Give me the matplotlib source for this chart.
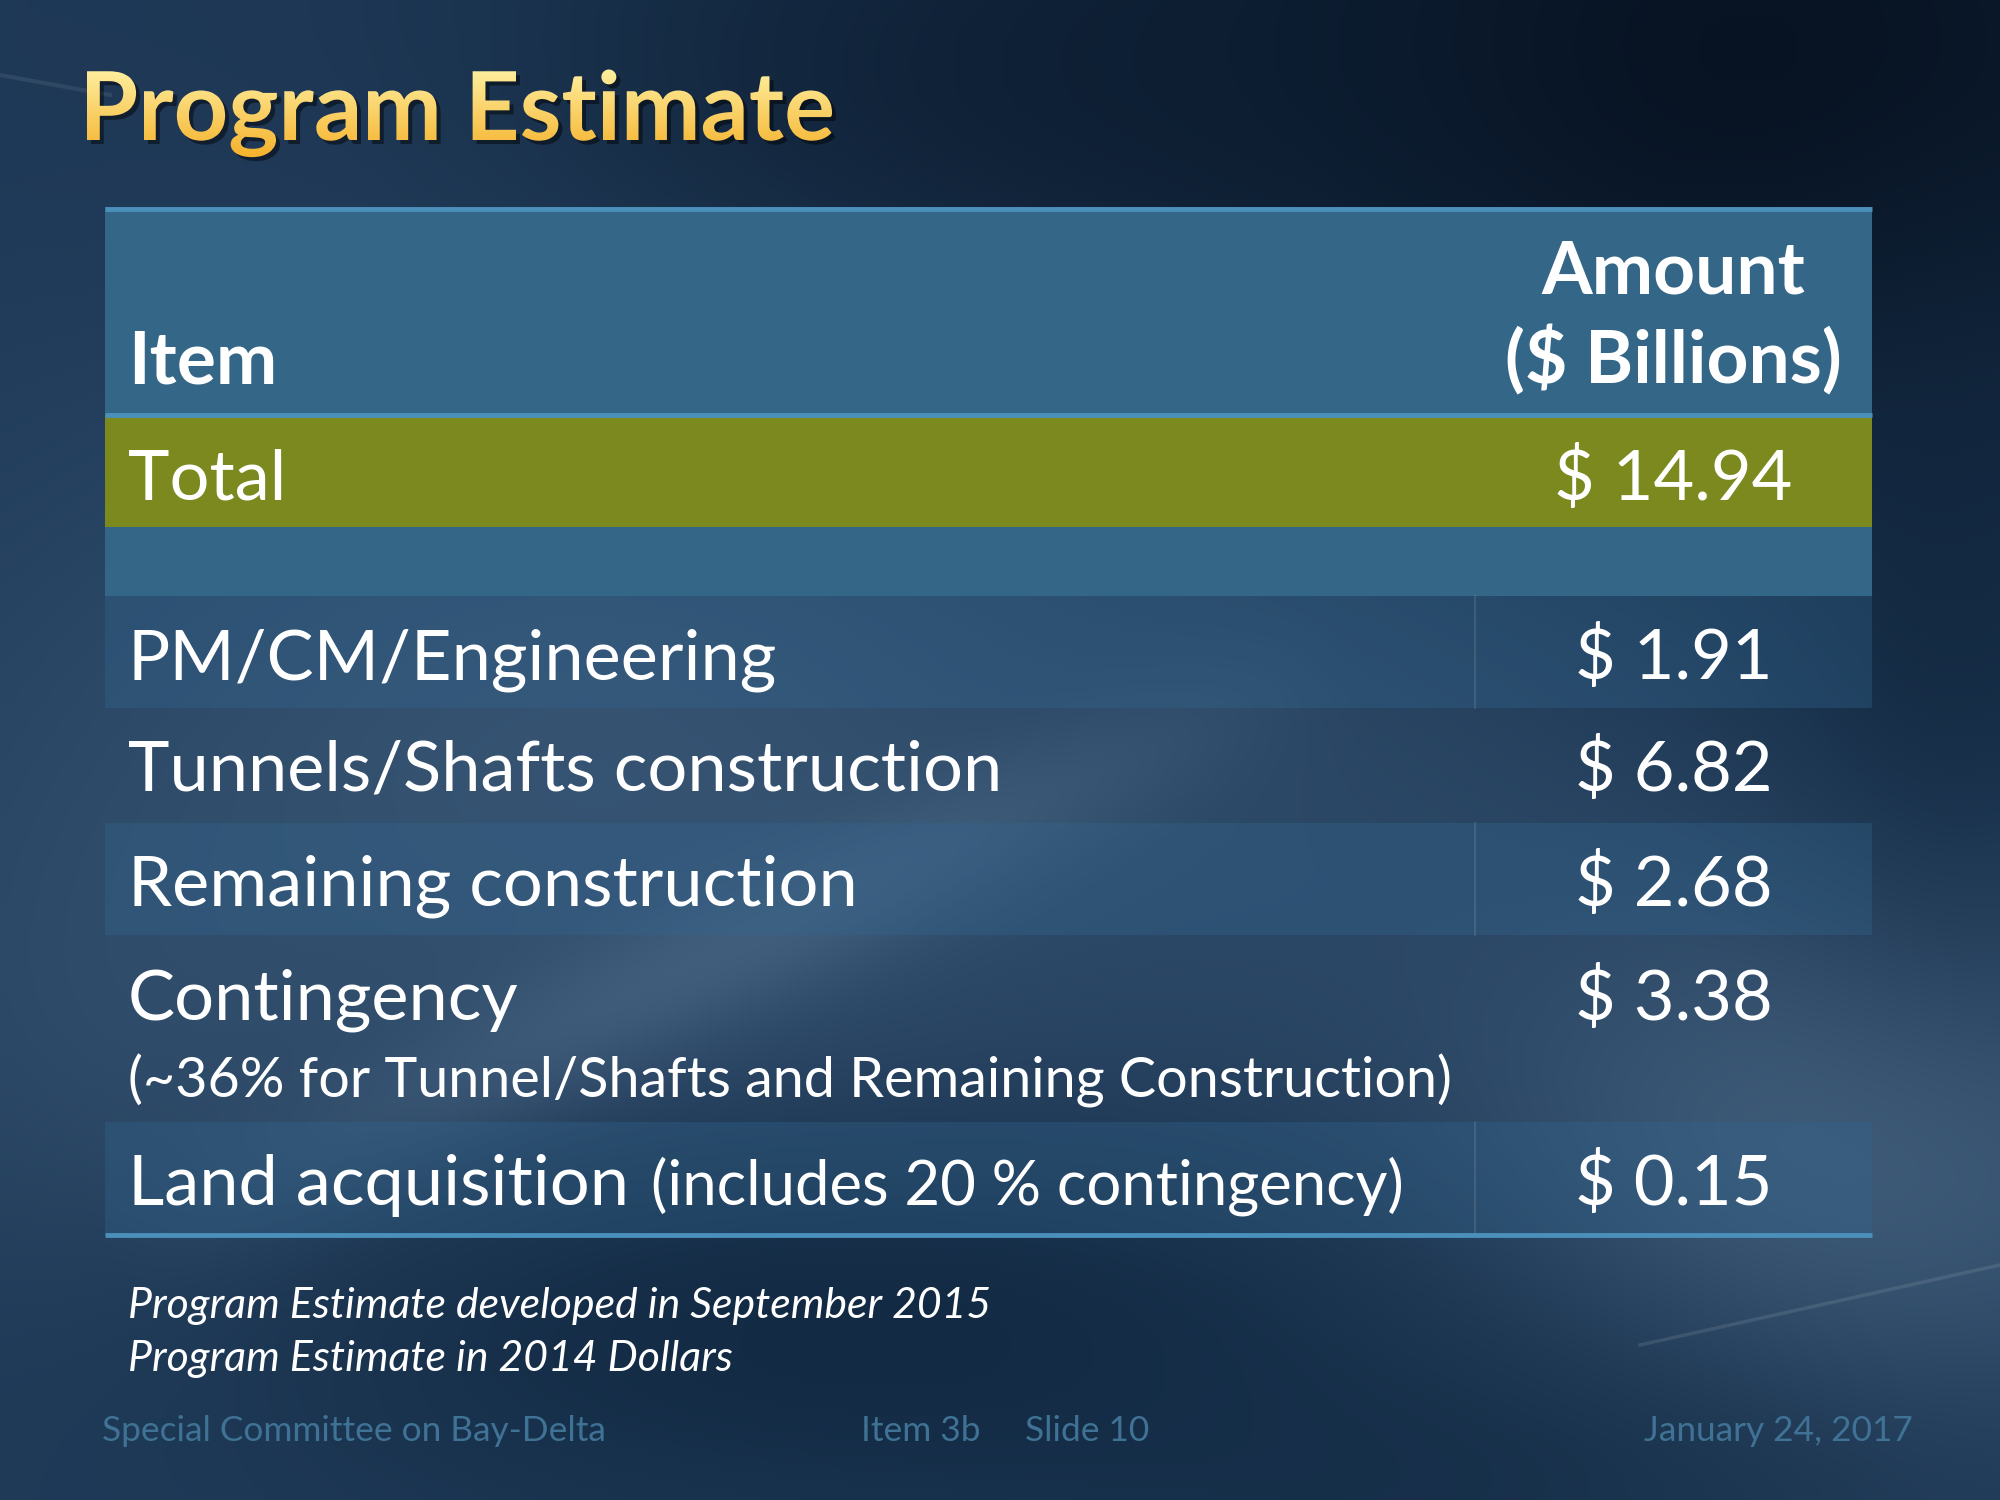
import numpy as np
import matplotlib
matplotlib.use("Agg")
import matplotlib.pyplot as plt
from matplotlib.textpath import TextPath
from matplotlib.patches import PathPatch, Rectangle
from matplotlib.font_manager import FontProperties
from matplotlib.transforms import Affine2D

# ---------------- data ----------------
title = "Program Estimate"
header_item = "Item"
header_amount = ["Amount", "($ Billions)"]
total_label = "Total"
total_value = 14.94
items = ["PM/CM/Engineering", "Tunnels/Shafts construction",
         "Remaining construction", "Contingency", "Land acquisition"]
notes = ["", "", "", "(~36% for Tunnel/Shafts and Remaining Construction)",
         "(includes 20 % contingency)"]
amounts = [1.91, 6.82, 2.68, 3.38, 0.15]
footnotes = ["Program Estimate developed in September 2015",
             "Program Estimate in 2014 Dollars"]
footer_left = "Special Committee on Bay-Delta"
footer_mid = ["Item 3b", "Slide 10"]
footer_right = "January 24, 2017"

FONT = "Lato"
W, H = 2000, 1500
fig = plt.figure(figsize=(20, 15), dpi=100)
ax = fig.add_axes([0, 0, 1, 1])
ax.set_xlim(0, W)
ax.set_ylim(H, 0)
ax.axis("off")

# ---------------- background ----------------
gy, gx = np.mgrid[0:H:4, 0:W:4].astype(float)
base = np.array([30, 58, 88], float)
img = np.ones(gx.shape + (3,)) * base

def blob(cx, cy, rx, ry, col, strength):
    global img
    w = np.exp(-(((gx - cx) / rx) ** 2 + ((gy - cy) / ry) ** 2)) * strength
    img = img * (1 - w[..., None]) + np.array(col, float) * w[..., None]

def band(p0, p1, width, col, strength):
    global img
    (x0, y0), (x1, y1) = p0, p1
    dx, dy = x1 - x0, y1 - y0
    L = np.hypot(dx, dy)
    t = np.clip(((gx - x0) * dx + (gy - y0) * dy) / L ** 2, 0, 1)
    d = np.hypot(gx - (x0 + t * dx), gy - (y0 + t * dy))
    w = np.exp(-(d / width) ** 2) * strength * np.sin(np.pi * t)
    img = img * (1 - w[..., None]) + np.array(col, float) * w[..., None]

blob(1750, 60, 750, 420, (6, 16, 30), 0.95)
blob(1050, 100, 550, 260, (10, 26, 46), 0.7)
blob(200, 120, 300, 250, (30, 55, 85), 0.5)
blob(600, 780, 650, 420, (70, 100, 132), 0.6)
blob(150, 1050, 300, 300, (55, 85, 115), 0.5)
blob(1850, 1150, 420, 300, (78, 108, 138), 0.75)
blob(1300, 800, 350, 300, (50, 80, 110), 0.4)
blob(850, 1330, 650, 200, (14, 36, 60), 0.75)
blob(1500, 1480, 500, 150, (16, 38, 62), 0.5)
blob(1950, 600, 200, 400, (15, 35, 58), 0.6)
band((100, 1250), (1350, 650), 70, (95, 125, 155), 0.35)
ax.imshow(np.clip(img, 0, 255).astype(np.uint8), extent=(0, W, H, 0),
          aspect="auto", interpolation="bicubic", zorder=0)
# faint streaks
ax.plot([1640, 2000], [1345, 1265], color="white", alpha=0.10, lw=2.5, zorder=1)
ax.plot([0, 110], [75, 95], color="white", alpha=0.08, lw=3, zorder=1)

# ---------------- helpers ----------------
fig.canvas.draw()
renderer = fig.canvas.get_renderer()
inv = ax.transData.inverted()

def width_of(t):
    return t.get_window_extent(renderer).width

def fit(t, target):
    w = width_of(t)
    t.set_fontsize(t.get_fontsize() * target / w)
    return t

def extent_data(t):
    bb = t.get_window_extent(renderer)
    (x0, y0), (x1, y1) = inv.transform([[bb.x0, bb.y0], [bb.x1, bb.y1]])
    return x0, x1

# ---------------- title (gradient fill) ----------------
tprop = FontProperties(family=FONT, weight="bold")
tp = TextPath((0, 0), title, size=100, prop=tprop)
tb = tp.get_extents()
scale = 745 / tb.width
tx, tbase = 87, 140
trans = Affine2D().translate(-tb.x0, 0).scale(scale, -scale).translate(tx, tbase)
shadow = PathPatch(trans.transform_path(tp), facecolor="black", alpha=0.45,
                   edgecolor="none", zorder=2,
                   transform=Affine2D().translate(4, 4) + ax.transData)
ax.add_patch(shadow)
tpatch = PathPatch(trans.transform_path(tp), facecolor="none", edgecolor="none",
                   zorder=3, transform=ax.transData)
ax.add_patch(tpatch)
grad = np.linspace(0, 1, 256)[:, None]
top_c = np.array([255, 242, 165]) / 255
bot_c = np.array([243, 165, 20]) / 255
gimg = top_c * (1 - grad[..., None]) + bot_c * grad[..., None]
gimg = np.repeat(gimg, 2, axis=1)
im = ax.imshow(gimg, extent=(tx - 5, tx + 760, tbase + 35, tbase - 75),
               aspect="auto", zorder=3, interpolation="bilinear")
im.set_clip_path(tpatch)

# ---------------- table ----------------
X0, X1, XDIV = 105, 1872, 1475
XTXT = 128
XVAL = (XDIV + X1) / 2
header_top, header_bot = 207, 415
total_bot = 527
blank_bot = 596
row_tops = [596, 708, 823, 935, 1122]
row_bots = [708, 823, 935, 1122, 1235]
row_base = [679, 791, 906, 1020, 1205]
note_base = 1097

HEAD_BLUE = "#336687"
OLIVE = "#7b891e"
LINE_BLUE = "#4b8fbb"

ax.add_patch(Rectangle((X0, header_top), X1 - X0, header_bot - header_top,
                       facecolor=HEAD_BLUE, edgecolor="none", zorder=2))
ax.add_patch(Rectangle((X0, header_bot), X1 - X0, total_bot - header_bot,
                       facecolor=OLIVE, edgecolor="none", zorder=2))
ax.add_patch(Rectangle((X0, total_bot), X1 - X0, blank_bot - total_bot,
                       facecolor=HEAD_BLUE, edgecolor="none", zorder=2))
ax.plot([X0, X1], [header_top + 2, header_top + 2], color=LINE_BLUE, lw=3.5,
        zorder=3, solid_capstyle="butt")
ax.plot([X0, X1], [header_bot, header_bot], color=LINE_BLUE, lw=3.5,
        zorder=3, solid_capstyle="butt")

for i, (t0, t1) in enumerate(zip(row_tops, row_bots)):
    if i % 2 == 0:
        ax.add_patch(Rectangle((X0, t0), X1 - X0, t1 - t0,
                               facecolor=(0.20, 0.40, 0.56), alpha=0.35,
                               edgecolor="none", zorder=2))
        ax.plot([XDIV, XDIV], [t0, t1], color="white", alpha=0.10, lw=1.5,
                zorder=3)
ax.plot([X0, X1], [row_bots[-1], row_bots[-1]], color=LINE_BLUE, lw=3.5,
        zorder=3, solid_capstyle="butt")

# header text
t_item = ax.text(XTXT, 383, header_item, fontsize=40, fontweight="bold",
                 family=FONT, color="white", va="baseline", ha="left", zorder=4)
t_b = ax.text(XVAL, 383, header_amount[1], fontsize=40, fontweight="bold",
              family=FONT, color="white", va="baseline", ha="center", zorder=4)
fit(t_b, 337)
hfs = t_b.get_fontsize()
t_item.set_fontsize(hfs)
ax.text(XVAL, 293, header_amount[0], fontsize=hfs, fontweight="bold",
        family=FONT, color="white", va="baseline", ha="center", zorder=4)

# body text size
probe = ax.text(XTXT, row_base[1], items[1], fontsize=50, family=FONT,
                color="white", va="baseline", ha="left", zorder=4)
fit(probe, 874)
bfs = probe.get_fontsize()
probe.remove()

ax.text(XTXT, 500, total_label, fontsize=bfs, family=FONT, color="white",
        va="baseline", ha="left", zorder=4)
ax.text(XVAL, 500, f"$ {total_value:.2f}", fontsize=bfs, family=FONT,
        color="white", va="baseline", ha="center", zorder=4)

nprobe = ax.text(XTXT, note_base, notes[3], fontsize=40, family=FONT,
                 color="white", va="baseline", ha="left", zorder=4)
fit(nprobe, 1324)
nfs = nprobe.get_fontsize()
nprobe.remove()

for i, (lab, note, val) in enumerate(zip(items, notes, amounts)):
    t = ax.text(XTXT, row_base[i], lab, fontsize=bfs, family=FONT, color="white",
                va="baseline", ha="left", zorder=4)
    ax.text(XVAL, row_base[i], f"$ {val:.2f}", fontsize=bfs, family=FONT,
            color="white", va="baseline", ha="center", zorder=4)
    if note:
        if i == 3:
            ax.text(XTXT, note_base, note, fontsize=nfs, family=FONT,
                    color="white", va="baseline", ha="left", zorder=4)
        else:
            _, xe = extent_data(t)
            tn = ax.text(xe + 22, row_base[i], note, fontsize=nfs, family=FONT,
                         color="white", va="baseline", ha="left", zorder=4)
            fit(tn, 1403 - (xe + 22))

# footnotes
f1 = ax.text(XTXT, 1318, footnotes[0], fontsize=24, family=FONT, style="italic",
             color="white", va="baseline", ha="left", zorder=4)
fit(f1, 864)
ax.text(XTXT, 1371, footnotes[1], fontsize=f1.get_fontsize(), family=FONT,
        style="italic", color="white", va="baseline", ha="left", zorder=4)

# footer
FOOT = "#3f7294"
ft = ax.text(102, 1441, footer_left, fontsize=20, family=FONT, color=FOOT,
             va="baseline", ha="left", zorder=4)
fit(ft, 505)
ffs = ft.get_fontsize()
ax.text(861, 1441, footer_mid[0], fontsize=ffs, family=FONT, color=FOOT,
        va="baseline", ha="left", zorder=4)
ax.text(1025, 1441, footer_mid[1], fontsize=ffs, family=FONT, color=FOOT,
        va="baseline", ha="left", zorder=4)
ax.text(1913, 1441, footer_right, fontsize=ffs, family=FONT, color=FOOT,
        va="baseline", ha="right", zorder=4)

fig.savefig("out.png", dpi=100)
